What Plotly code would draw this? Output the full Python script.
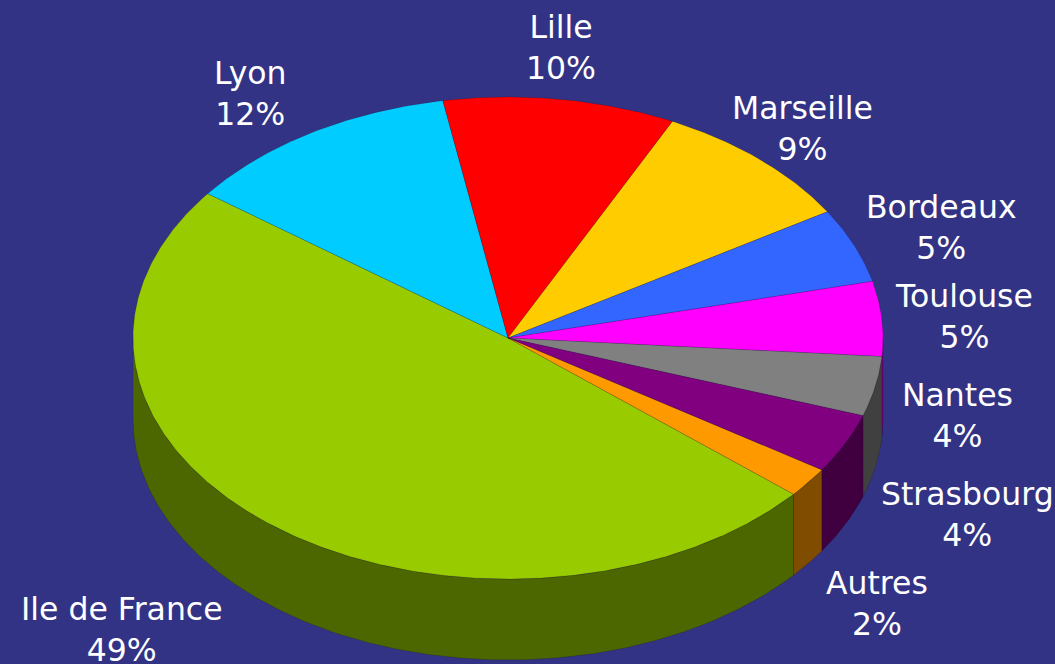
import math
import plotly.graph_objects as go

# ---- data ----
categories = ["Ile de France", "Lyon", "Lille", "Marseille", "Bordeaux",
              "Toulouse", "Nantes", "Strasbourg", "Autres"]
values = [49, 12, 10, 9, 5, 5, 4, 4, 2]
colors = ["#99CC00", "#00CCFF", "#FF0000", "#FFCC00", "#3366FF",
          "#FF00FF", "#808080", "#800080", "#FF9900"]

# ---- layout constants (pixels) ----
W, H = 1055, 664
CX, CY = 508, 338          # centre of top face
RX, RY = 375, 241          # ellipse radii
DEPTH = 81                 # height of the pie wall
START = 130.4              # degrees clockwise from top where first slice starts
BG = "#333385"
label_pos = {
    "Ile de France": (122, 629), "Lyon": (250, 93), "Lille": (561, 47),
    "Marseille": (802, 128), "Bordeaux": (941, 227), "Toulouse": (964, 316),
    "Nantes": (957, 415), "Strasbourg": (967, 514), "Autres": (877, 603),
}


def darken(hexc, f=0.5):
    r, g, b = int(hexc[1:3], 16), int(hexc[3:5], 16), int(hexc[5:7], 16)
    return "rgb(%d,%d,%d)" % (r * f, g * f, b * f)


def pt(theta, dy=0.0):
    t = math.radians(theta)
    return CX + RX * math.sin(t), CY - RY * math.cos(t) + dy


def arc(t1, t2, dy=0.0, n=None):
    if n is None:
        n = max(2, int(abs(t2 - t1) * 2) + 2)
    xs, ys = [], []
    for i in range(n):
        t = t1 + (t2 - t1) * i / (n - 1)
        x, y = pt(t, dy)
        xs.append(x)
        ys.append(y)
    return xs, ys


total = sum(values)
angles = []
a = START
for v in values:
    sweep = 360.0 * v / total
    angles.append((a, a + sweep))
    a += sweep

fig = go.Figure()

# walls (visible front half: 90..270 degrees)
for (t1, t2), c in zip(angles, colors):
    for off in (0, 360, -360):
        lo, hi = max(t1 + off, 90), min(t2 + off, 270)
        if hi > lo:
            xt, yt = arc(lo, hi)
            xb, yb = arc(hi, lo, DEPTH)
            fig.add_trace(go.Scatter(
                x=xt + xb + [xt[0]], y=yt + yb + [yt[0]],
                mode="lines", fill="toself", fillcolor=darken(c),
                line=dict(color="rgba(0,0,0,0.3)", width=0.5),
                hoverinfo="skip", showlegend=False))

# top faces
for (t1, t2), c in zip(angles, colors):
    xs, ys = arc(t1, t2)
    fig.add_trace(go.Scatter(
        x=[CX] + xs + [CX], y=[CY] + ys + [CY],
        mode="lines", fill="toself", fillcolor=c,
        line=dict(color="rgba(0,0,0,0.3)", width=0.5),
        hoverinfo="skip", showlegend=False))

# labels
for cat, v in zip(categories, values):
    x, y = label_pos[cat]
    pct = round(100.0 * v / total)
    fig.add_annotation(x=x, y=y, xref="x", yref="y",
                       text=f"{cat}<br>{pct}%", showarrow=False,
                       xanchor="center", yanchor="middle",
                       font=dict(family="DejaVu Sans", size=31.5, color="white"))

fig.update_layout(
    width=W, height=H, margin=dict(l=0, r=0, t=0, b=0),
    paper_bgcolor=BG, plot_bgcolor=BG,
    xaxis=dict(range=[0, W], visible=False, fixedrange=True),
    yaxis=dict(range=[H, 0], visible=False, fixedrange=True),
    showlegend=False,
)
fig.write_html(
    "out.html",
    config={"displayModeBar": False},
    post_script="document.body.style.margin='0';"
                "document.body.style.overflow='hidden';"
                "document.body.style.background='" + BG + "';",
)
